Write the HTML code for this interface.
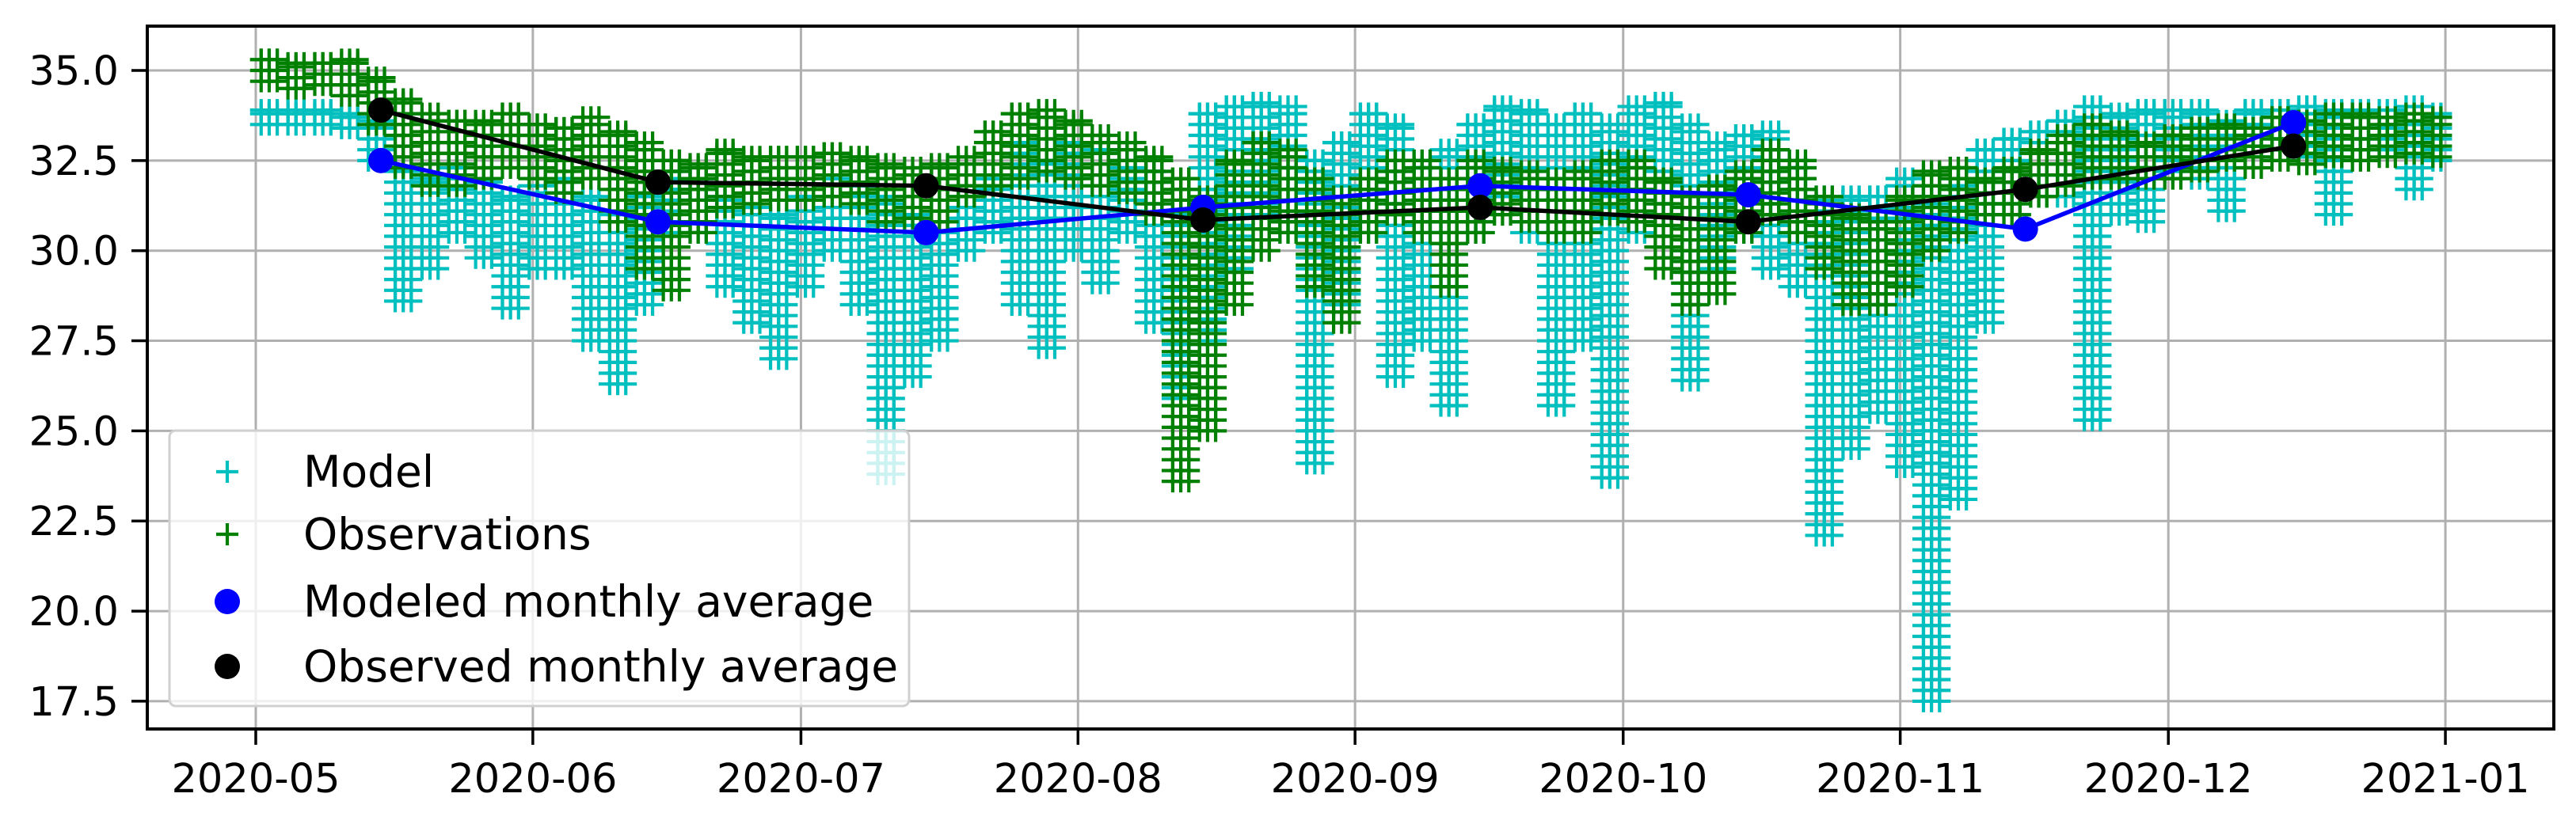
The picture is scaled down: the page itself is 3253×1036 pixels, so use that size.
<!DOCTYPE html>
<html><head><meta charset="utf-8"><style>
html,body{margin:0;padding:0;background:#fff;}
svg{display:block;font-family:"DejaVu Sans","Liberation Sans",sans-serif;}
</style></head><body>
<svg id="chart" width="3253" height="1036" viewBox="0 0 3253 1036" xmlns="http://www.w3.org/2000/svg">
<rect width="3253" height="1036" fill="#fff"/>
<g id="grid"></g>
<g id="model"></g>
<g id="obs"></g>
<g id="avg"></g>
<g id="axes"></g>
<g id="legend"></g>
</svg>
<script>
const yTicks=[17.5,20.0,22.5,25.0,27.5,30.0,32.5,35.0];
const xTickLabels=["2020-05","2020-06","2020-07","2020-08","2020-09","2020-10","2020-11","2020-12","2021-01"];
const xTickDays=[0,31,61,92,123,153,184,214,245];
const binDays=3;
const modelHi=[33.9,33.9,33.9,33.8,33.6,32.3,32.0,32.4,32.0,31.5,31.8,32.0,31.5,31.0,31.5,32.2,32.0,31.5,31.2,31.0,31.5,32.0,31.8,31.5,31.0,30.5,31.5,32.0,33.0,32.5,33.0,32.8,32.5,32.5,31.0,33.8,34.0,34.1,34.0,32.5,33.0,33.8,33.5,32.5,32.8,33.5,34.0,33.9,33.5,33.8,33.5,34.0,34.1,33.5,33.0,33.2,33.3,32.5,31.5,31.5,31.5,32.0,31.5,32.0,32.8,33.1,33.3,33.6,34.0,33.8,33.9,33.9,33.9,33.6,33.9,33.9,34.0,33.9,33.9,33.9,34.0,33.8];
const modelLo=[33.5,33.5,33.5,33.4,32.5,28.6,29.5,30.5,29.8,28.4,29.5,29.5,27.5,26.3,28.5,30.5,30.5,29.0,28.0,27.0,29.0,30.0,28.5,23.8,26.5,27.5,30.0,30.5,28.5,27.3,30.0,29.1,30.5,28.0,25.9,27.5,29.5,31.0,30.5,24.1,28.5,30.5,26.5,27.5,25.7,30.5,31.5,30.5,25.7,27.5,23.7,30.5,31.0,26.4,29.5,30.5,29.5,29.0,22.1,24.5,25.5,24.0,17.5,23.1,28.0,31.0,31.5,31.5,25.3,31.0,30.8,32.2,32.0,31.1,32.6,32.8,32.6,31.0,32.8,32.8,31.7,32.5];
const obsHi=[35.3,35.2,35.2,35.3,34.8,34.2,33.8,33.6,33.6,33.8,33.5,33.4,33.7,33.3,33.0,32.5,32.4,32.8,32.6,32.6,32.6,32.7,32.6,32.4,32.3,32.4,32.6,33.3,33.8,33.9,33.6,33.2,33.0,32.6,32.0,31.5,32.5,33.0,32.8,32.0,31.5,32.0,32.5,32.5,32.0,32.5,32.3,32.2,32.0,32.2,32.5,32.5,32.0,31.5,31.8,32.2,32.8,32.5,31.5,31.0,30.8,31.5,32.2,32.3,32.0,32.3,32.8,33.2,33.5,33.3,33.0,33.2,33.4,33.5,33.4,33.7,33.6,33.8,33.8,33.7,33.8,33.7];
const obsLo=[34.7,34.5,34.6,34.3,33.5,32.3,31.8,31.8,32.0,32.3,32.0,31.6,32.0,30.8,29.5,28.9,30.5,31.2,31.3,31.4,31.4,31.5,31.3,30.8,30.9,30.8,31.5,31.8,32.0,32.2,32.0,31.8,31.6,31.0,23.6,25.0,28.5,30.0,30.5,29.0,28.0,30.5,31.0,30.5,29.0,30.5,31.0,30.8,30.5,30.5,31.0,30.8,29.5,28.5,28.8,30.5,31.0,30.5,29.5,28.5,28.5,29.0,30.0,30.5,31.0,31.0,31.5,31.8,32.0,32.0,32.0,32.0,32.2,32.5,32.3,32.5,32.4,32.6,32.5,32.6,32.7,32.6];
const avgDays=[14,45,75,106,137,167,198,228];
const modelAvg=[32.5,30.8,30.5,31.2,31.8,31.55,30.6,33.55];
const obsAvg=[33.9,31.9,31.8,30.85,31.2,30.8,31.7,32.9];

const NS="http://www.w3.org/2000/svg";
const L=186,R=3225,T=33,B=921;
const x0=323,pxDay=11.286;
const yMin=16.73,yMax=36.23;
const X=d=>x0+d*pxDay;
const Y=v=>B-(v-yMin)/(yMax-yMin)*(B-T);
function mk(tag,attrs,parent){const e=document.createElementNS(NS,tag);for(const k in attrs)e.setAttribute(k,attrs[k]);parent.appendChild(e);return e;}
const grid=document.getElementById('grid'),axes=document.getElementById('axes');
yTicks.forEach((v,i)=>{
  const gl=mk('line',{x1:L,x2:R,y1:Y(v),y2:Y(v),stroke:'#b0b0b0','stroke-width':3},grid);
  
  
  const tk=mk('line',{x1:L-20,x2:L,y1:Y(v),y2:Y(v),stroke:'#000','stroke-width':3.5},axes);
  
  
  const t=mk('text',{x:L-36,y:Y(v)+18,'text-anchor':'end','font-size':51,fill:'#000'},axes);
  t.textContent=v.toFixed(1);
  
  
});
xTickDays.forEach((d,i)=>{
  const gl=mk('line',{x1:X(d),x2:X(d),y1:T,y2:B,stroke:'#b0b0b0','stroke-width':3},grid);
  
  
  const tk=mk('line',{x1:X(d),x2:X(d),y1:B,y2:B+20,stroke:'#000','stroke-width':3.5},axes);
  
  
  const t=mk('text',{x:X(d),y:B+80,'text-anchor':'middle','font-size':51,fill:'#000'},axes);
  t.textContent=xTickLabels[i];
  
  
});
const frame=mk('rect',{x:L,y:T,width:R-L,height:B-T,fill:'none',stroke:'#000','stroke-width':4},axes);



function plus(g,cx,cy,color,s){
  return mk('path',{d:`M${cx-s} ${cy}H${cx+s}M${cx} ${cy-s}V${cy+s}`,stroke:color,'stroke-width':4.2,fill:'none'},g);
}
function drawSeries(gid,hi,lo,color,name){
  const g=document.getElementById(gid);
  hi.forEach((h,i)=>{
    const l=lo[i];
    [0.6,1.5,2.4].forEach(off=>{
      const d=i*binDays+off; if(d>245)return;
      for(let v=l;v<=h+0.001;v+=0.3){
        const p=plus(g,X(d),Y(v),color,14);
        
        
      }
      const p=plus(g,X(d),Y(h),color,14);
      
      
    });
  });
}
drawSeries('model',modelHi,modelLo,'#00bfbf','model-point');
drawSeries('obs',obsHi,obsLo,'#008000','observation-point');

const ag=document.getElementById('avg');
function drawAvg(vals,color,name){
  const pts=vals.map((v,i)=>X(avgDays[i])+','+Y(v)).join(' ');
  const pl=mk('polyline',{points:pts,fill:'none',stroke:color,'stroke-width':5.5},ag);
  
  
  vals.forEach((v,i)=>{
    const c=mk('circle',{cx:X(avgDays[i]),cy:Y(v),r:16,fill:color},ag);
    
    
  });
}
drawAvg(modelAvg,'#0000ff','modeled-monthly-average');
drawAvg(obsAvg,'#000000','observed-monthly-average');

const lg=document.getElementById('legend');
const box=mk('rect',{x:214,y:544,width:934,height:348,rx:8,fill:'#fff','fill-opacity':0.8,stroke:'#d0d0d0','stroke-width':3},lg);


const entries=[["Model",596,"plus","#00bfbf"],["Observations",675,"plus","#008000"],["Modeled monthly average",760,"dot","#0000ff"],["Observed monthly average",842,"dot","#000"]];
entries.forEach(e=>{
  let m;
  if(e[2]==="plus"){m=plus(lg,287,e[1],e[3],14);}
  else{m=mk('circle',{cx:287,cy:e[1],r:16,fill:e[3]},lg);}
  
  
  const t=mk('text',{x:383,y:e[1]+19,'font-size':55,fill:'#000'},lg);
  t.textContent=e[0];
  
  
});
</script>
</body></html>
